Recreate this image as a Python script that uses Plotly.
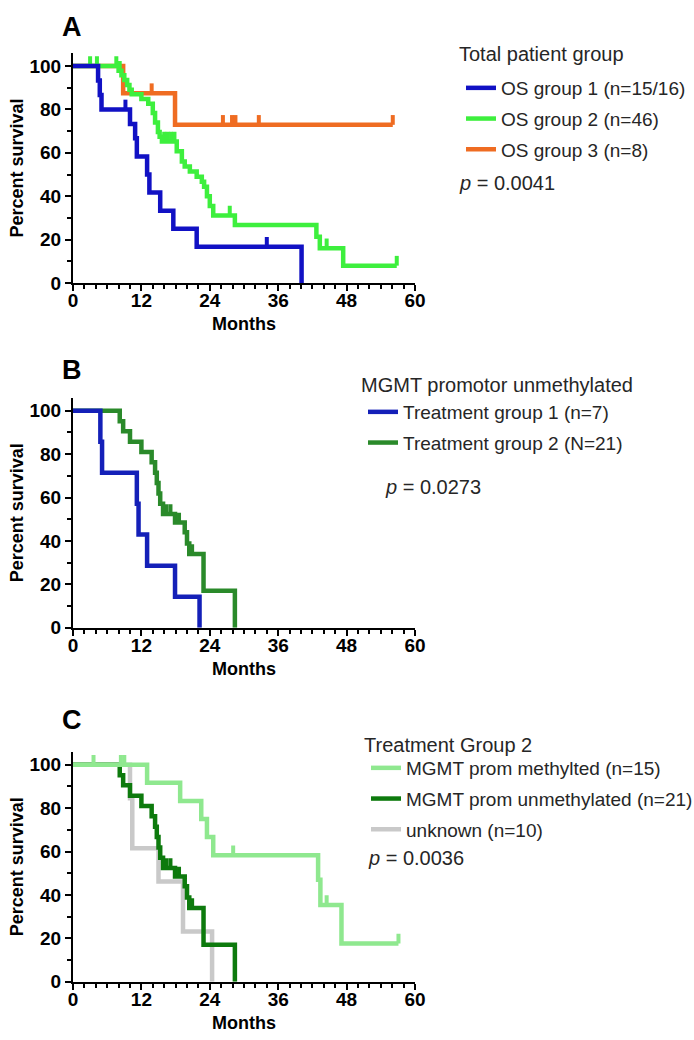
import plotly.graph_objects as go

FONT = "Liberation Sans, Arial, sans-serif"
CENSOR_H = 4.5

month_ticks = [0, 12, 24, 36, 48, 60]
pct_ticks = [0, 20, 40, 60, 80, 100]

# ---------- Panel A : Total patient group ----------
a1_t = [4.4, 4.7, 5.0, 10.0, 10.9, 11.2, 13.0, 13.4, 15.3, 17.6, 21.7, 40.1]
a1_s = [93.3, 86.7, 80.0, 73.3, 66.7, 58.3, 50.0, 41.7, 33.3, 25.0, 16.7, 0.0]
a1_c = [9.2, 34.0]

a2_t = [8.0, 8.5, 9.0, 9.5, 9.9, 10.3, 12.0, 13.2, 14.0, 14.4, 14.9, 15.2, 15.6,
        18.2, 19.1, 19.6, 20.5, 21.7, 22.6, 23.0, 23.5, 24.0, 24.6, 28.4, 42.7, 43.3, 47.4]
a2_s = [97.8, 95.7, 93.5, 91.3, 89.1, 87.0, 84.8, 82.6, 78.3, 74.0, 69.6, 67.4, 65.2,
        60.7, 56.0, 53.7, 51.4, 49.0, 46.7, 44.4, 40.0, 35.5, 31.1, 26.7, 21.3, 16.0, 8.0]
a2_c = [3.0, 4.2, 7.6, 8.2, 16.0, 16.6, 17.2, 17.8, 27.5, 44.5, 56.8]

a3_t = [8.8, 17.9]
a3_s = [87.5, 72.9]
a3_c = [13.8, 26.3, 27.9, 28.5, 32.6, 56.1]

# ---------- Panel B : MGMT promotor unmethylated ----------
b1_t = [4.8, 5.1, 11.2, 11.5, 13.0, 17.9, 22.2]
b1_s = [85.7, 71.4, 57.1, 42.9, 28.6, 14.3, 0.0]
b1_c = []

b2_t = [8.2, 8.8, 10.0, 12.0, 13.8, 14.4, 14.7, 15.0, 15.3, 15.8, 17.9, 19.6, 20.0, 20.4, 22.9, 28.4]
b2_s = [95.2, 90.5, 85.7, 81.0, 76.2, 71.4, 66.7, 61.9, 57.1, 52.4, 48.5, 44.0, 38.8, 34.0, 17.0, 0.0]
b2_c = [16.4, 17.1, 18.6, 20.9]

# ---------- Panel C : Treatment Group 2 ----------
c1_t = [13.0, 18.8, 22.5, 23.5, 24.6, 43.0, 43.4, 47.1]
c1_s = [91.7, 83.3, 75.0, 66.7, 58.3, 47.0, 35.3, 17.6]
c1_c = [3.6, 8.4, 9.0, 28.1, 44.5, 57.1]

c2_t = b2_t
c2_s = b2_s
c2_c = b2_c

c3_t = [10.0, 10.4, 15.0, 19.3, 24.4]
c3_s = [84.6, 61.5, 46.2, 23.1, 0.0]
c3_c = []

legend_titles = ["Total patient group", "MGMT promotor unmethylated", "Treatment Group 2"]
p_values = ["0.0041", "0.0273", "0.0036"]


def km_points(times, surv, censors):
    pts = [(t, s, False) for t, s in zip(times, surv)] + [(c, None, True) for c in censors]
    pts.sort(key=lambda p: p[0])
    level = 100.0
    xs, ys, err = [0.0], [100.0], [0.0]
    for t, s, is_c in pts:
        if is_c:
            xs.append(t); ys.append(level); err.append(CENSOR_H)
        else:
            level = s
            xs.append(t); ys.append(s); err.append(0.0)
    return xs, ys, err


fig = go.Figure()


def add_curve(times, surv, cens, name, color, xa, ya, legend, rank):
    xs, ys, err = km_points(times, surv, cens)
    fig.add_trace(go.Scatter(
        x=xs, y=ys, mode="lines", name=name,
        line=dict(color=color, width=4.5, shape="hv"),
        error_y=dict(type="data", symmetric=False, array=err,
                     arrayminus=[0.0] * len(err), color=color, thickness=4, width=0),
        xaxis=xa, yaxis=ya, legend=legend, legendrank=rank, legendgroup=name,
    ))


# draw order matters (later on top)
add_curve(a3_t, a3_s, a3_c, "OS group 3 (n=8)", "#ef6c22", "x", "y", "legend", 3)
add_curve(a2_t, a2_s, a2_c, "OS group 2 (n=46)", "#3def3d", "x", "y", "legend", 2)
add_curve(a1_t, a1_s, a1_c, "OS group 1 (n=15/16)", "#1111c4", "x", "y", "legend", 1)

add_curve(b2_t, b2_s, b2_c, "Treatment group 2 (N=21)", "#2a8a2a", "x2", "y2", "legend2", 2)
add_curve(b1_t, b1_s, b1_c, "Treatment group 1 (n=7)", "#1420b8", "x2", "y2", "legend2", 1)

add_curve(c3_t, c3_s, c3_c, "unknown (n=10)", "#c9c9c9", "x3", "y3", "legend3", 3)
add_curve(c2_t, c2_s, c2_c, "MGMT prom unmethylated (n=21)", "#0d7a0d", "x3", "y3", "legend3", 2)
add_curve(c1_t, c1_s, c1_c, "MGMT prom methylted (n=15)", "#8fe88f", "x3", "y3", "legend3", 1)

W, H = 694, 1040
X0, X1 = 73, 415
panels = [(283.0, "y", "x"), (627.7, "y2", "x2"), (981.7, "y3", "x3")]

tickfont = dict(family=FONT, size=19, color="black", weight="bold")
titlefont = dict(family=FONT, size=18, color="black", weight="bold")

layout = dict(
    width=W, height=H, margin=dict(l=0, r=0, t=0, b=0, autoexpand=False),
    paper_bgcolor="white", plot_bgcolor="white", showlegend=True,
    font=dict(family=FONT, size=18, color="#262626"),
)

for i, (bottom, yname, xname) in enumerate(panels):
    top = bottom - 230.0
    sfx = "" if i == 0 else str(i + 1)
    layout["xaxis" + sfx] = dict(
        domain=[X0 / W, X1 / W], range=[0, 60], anchor=yname,
        tickmode="linear", tick0=0, dtick=12,
        ticks="outside", ticklen=6, tickwidth=2, tickcolor="black",
        showline=True, linewidth=2, linecolor="black",
        showgrid=False, zeroline=False, tickfont=tickfont, ticklabelstandoff=-7,
        minor=dict(tickmode="linear", tick0=0, dtick=2, ticks="outside", ticklen=4,
                   tickwidth=2, tickcolor="black", showgrid=False),
        title=dict(text="Months", font=titlefont, standoff=8),
    )
    layout["yaxis" + sfx] = dict(
        domain=[1 - bottom / H, 1 - top / H], range=[0, 106], anchor=xname,
        tickmode="linear", tick0=0, dtick=20,
        ticks="outside", ticklen=6, tickwidth=2, tickcolor="black",
        showline=True, linewidth=2, linecolor="black",
        showgrid=False, zeroline=False, tickfont=tickfont,
        minor=dict(tickmode="linear", tick0=0, dtick=10, ticks="outside", ticklen=4,
                   tickwidth=2, tickcolor="black", showgrid=False),
        title=dict(text="Percent survival", font=titlefont, standoff=1),
    )

# legend boxes (left x, top y in px)
legend_specs = [("legend", 461, 69), ("legend2", 363, 393), ("legend3", 366, 749)]
for key, lx, ly in legend_specs:
    layout[key] = dict(
        x=lx / W, y=1 - ly / H, xanchor="left", yanchor="top",
        bgcolor="rgba(0,0,0,0)", borderwidth=0, itemwidth=30,
        font=dict(family=FONT, size=19, color="#262626"),
        tracegroupgap=3, traceorder="grouped",
    )

annos = []
for letter, cy in [("A", 26.5), ("B", 370), ("C", 720)]:
    annos.append(dict(text="<b>%s</b>" % letter, x=72 / W, y=1 - cy / H, xref="paper", yref="paper",
                      xanchor="center", yanchor="middle", showarrow=False,
                      font=dict(family=FONT, size=27, color="black")))
for txt, px, py in zip(legend_titles, [457, 359, 362], [54, 385, 745]):
    annos.append(dict(text=txt, x=px / W, y=1 - py / H, xref="paper", yref="paper",
                      xanchor="left", yanchor="middle", showarrow=False,
                      font=dict(family=FONT, size=20, color="#262626")))
for pv, px, py in zip(p_values, [457, 383, 366], [183, 487, 858]):
    annos.append(dict(text="<i>p</i> = " + pv, x=px / W, y=1 - py / H, xref="paper", yref="paper",
                      xanchor="left", yanchor="middle", showarrow=False,
                      font=dict(family=FONT, size=20, color="#262626")))
layout["annotations"] = annos

fig.update_layout(**layout)
fig.write_html("out.html", config={"displayModeBar": False},
               post_script="document.body.style.margin='0';")
